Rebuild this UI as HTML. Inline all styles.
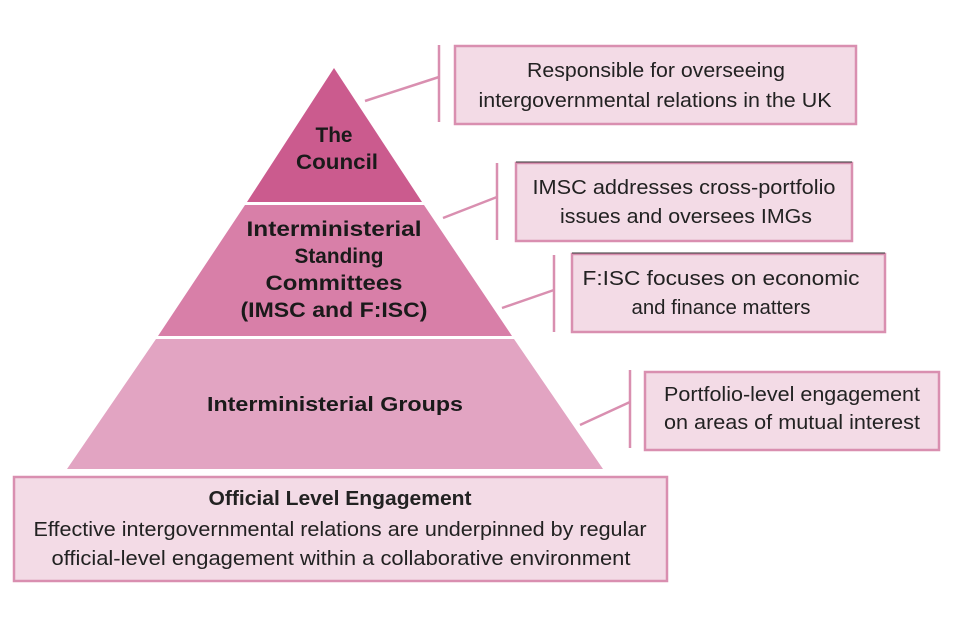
<!DOCTYPE html>
<html><head><meta charset="utf-8"><style>
html,body{margin:0;padding:0;background:#fff;}
svg{display:block;}
text{font-family:"Liberation Sans",sans-serif;}
</style></head><body>
<svg width="960" height="640" viewBox="0 0 960 640" xmlns="http://www.w3.org/2000/svg">
<rect width="960" height="640" fill="#fff"/>
<polygon points="334,68 422,202 247,202" fill="#cb5b8e"/>
<polygon points="245,205 424,205 512,336 158,336" fill="#d87fa8"/>
<polygon points="156,339 514,339 603,469 67,469" fill="#e2a4c2"/>
<g font-weight="bold" fill="#1a1a1a" text-anchor="middle" font-size="21">
<text x="334" y="142" textLength="37" lengthAdjust="spacingAndGlyphs">The</text>
<text x="337" y="169" textLength="82" lengthAdjust="spacingAndGlyphs">Council</text>
<text x="334" y="236" textLength="175" lengthAdjust="spacingAndGlyphs">Interministerial</text>
<text x="339" y="263" textLength="89" lengthAdjust="spacingAndGlyphs">Standing</text>
<text x="334" y="290" textLength="137" lengthAdjust="spacingAndGlyphs">Committees</text>
<text x="334" y="317" textLength="187" lengthAdjust="spacingAndGlyphs">(IMSC and F:ISC)</text>
<text x="335" y="411" font-size="20" textLength="256" lengthAdjust="spacingAndGlyphs">Interministerial Groups</text>
</g>
<g stroke="#d98fb0" stroke-width="2.5" fill="none">
<line x1="365" y1="101" x2="439" y2="77"/>
<line x1="439" y1="45" x2="439" y2="122"/>
<line x1="443" y1="218" x2="497" y2="197"/>
<line x1="497" y1="163" x2="497" y2="240"/>
<line x1="502" y1="308" x2="554" y2="290"/>
<line x1="554" y1="255" x2="554" y2="332"/>
<line x1="580" y1="425" x2="630" y2="402"/>
<line x1="630" y1="370" x2="630" y2="448"/>
</g>
<g fill="#f3dbe6" stroke="#d98fb0" stroke-width="2.5">
<rect x="455" y="46" width="401" height="78"/>
<rect x="516" y="163" width="336" height="78"/>
<rect x="572" y="254" width="313" height="78"/>
<rect x="645" y="372" width="294" height="78"/>
<rect x="14" y="477" width="653" height="104"/>
</g>
<line x1="516" y1="162" x2="852" y2="162" stroke="#333" stroke-width="1"/>
<line x1="572" y1="253" x2="885" y2="253" stroke="#333" stroke-width="1"/>
<g fill="#222" text-anchor="middle" font-size="20">
<text x="656" y="77" textLength="258" lengthAdjust="spacingAndGlyphs">Responsible for overseeing</text>
<text x="655" y="107" textLength="353" lengthAdjust="spacingAndGlyphs">intergovernmental relations in the UK</text>
<text x="684" y="194" textLength="303" lengthAdjust="spacingAndGlyphs">IMSC addresses cross-portfolio</text>
<text x="686" y="223" textLength="252" lengthAdjust="spacingAndGlyphs">issues and oversees IMGs</text>
<text x="721" y="285" textLength="277" lengthAdjust="spacingAndGlyphs">F:ISC focuses on economic</text>
<text x="721" y="314" textLength="179" lengthAdjust="spacingAndGlyphs">and finance matters</text>
<text x="792" y="401" textLength="256" lengthAdjust="spacingAndGlyphs">Portfolio-level engagement</text>
<text x="792" y="429" textLength="256" lengthAdjust="spacingAndGlyphs">on areas of mutual interest</text>
<text x="340" y="505" font-weight="bold" textLength="263" lengthAdjust="spacingAndGlyphs">Official Level Engagement</text>
<text x="340" y="536" textLength="613" lengthAdjust="spacingAndGlyphs">Effective intergovernmental relations are underpinned by regular</text>
<text x="341" y="565" textLength="579" lengthAdjust="spacingAndGlyphs">official-level engagement within a collaborative environment</text>
</g>
</svg>
</body></html>
